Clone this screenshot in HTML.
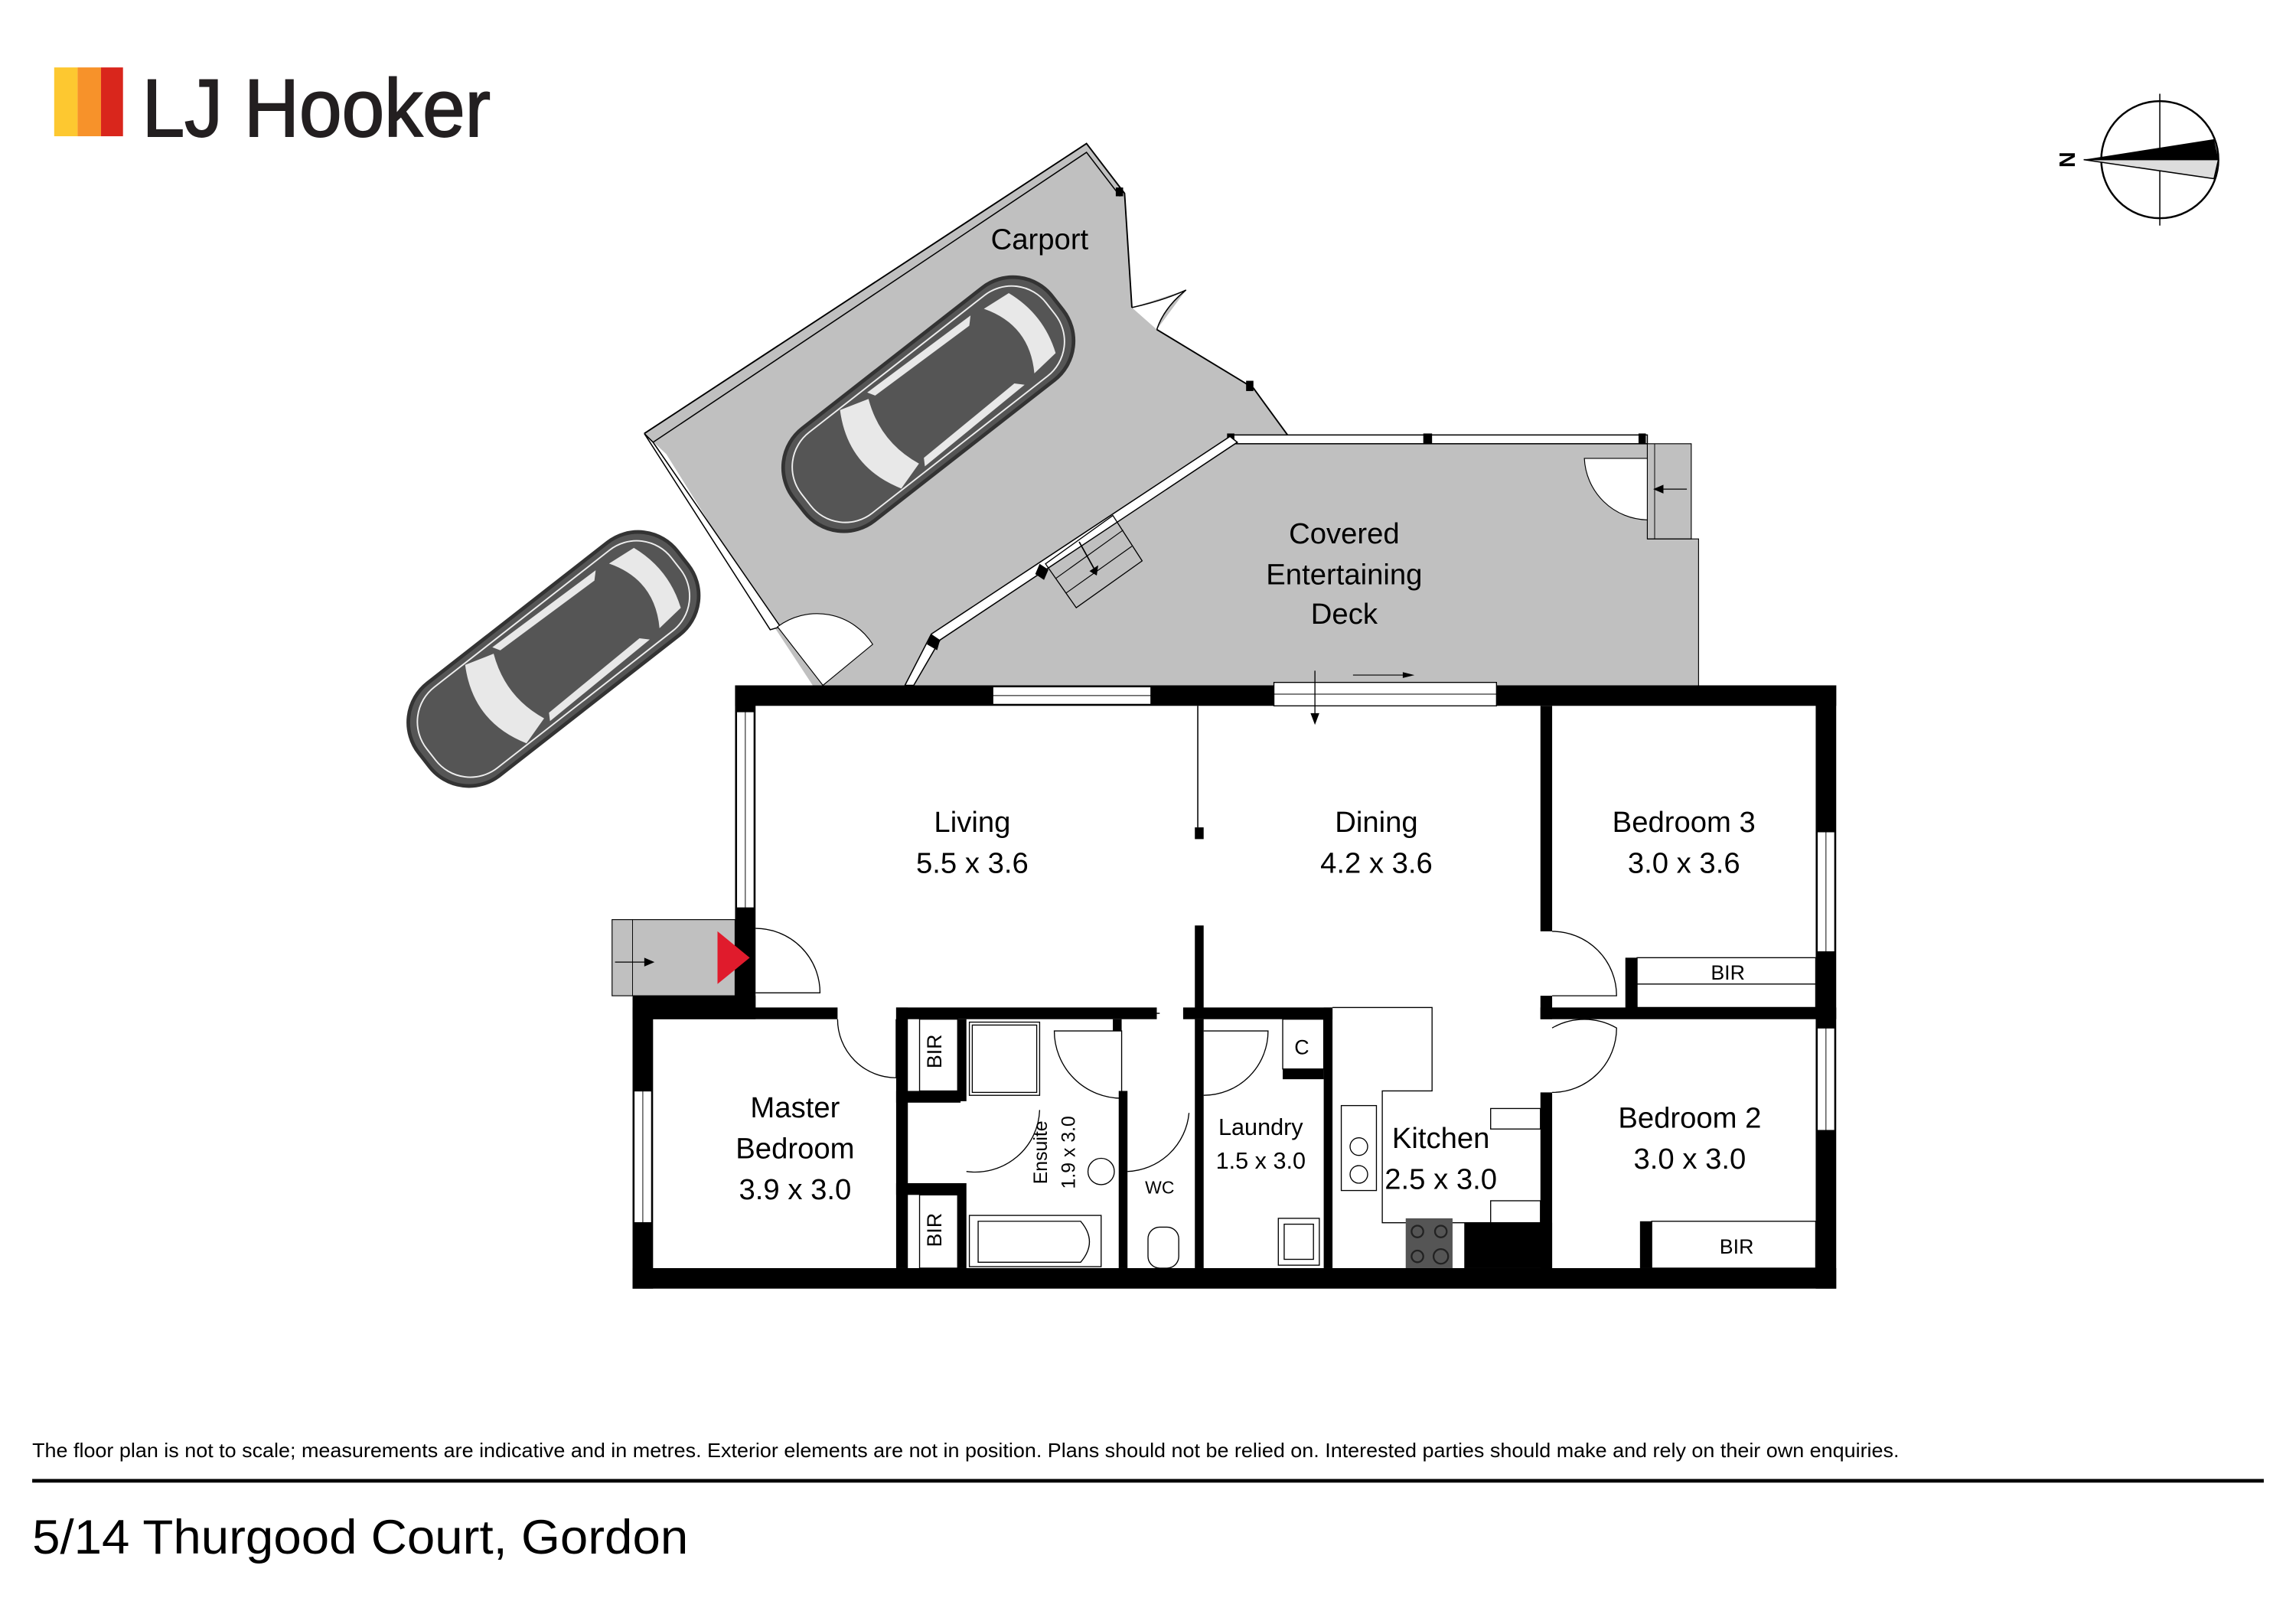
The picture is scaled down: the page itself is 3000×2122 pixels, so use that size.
<!DOCTYPE html>
<html><head><meta charset="utf-8"><style>
html,body{margin:0;padding:0;background:#fff;}
svg{display:block;}
text{font-family:"Liberation Sans",sans-serif;}
</style></head><body>
<svg width="3000" height="2122" viewBox="0 0 1568 1109" xmlns="http://www.w3.org/2000/svg">
<rect width="1568" height="1110" fill="#fff"/>
<!-- Logo -->
<rect x="37" y="46" width="16" height="47" fill="#fdc830"/>
<rect x="53" y="46" width="16" height="47" fill="#f7922a"/>
<rect x="69" y="46" width="15" height="47" fill="#d9261c"/>
<text x="97" y="93" font-size="56" fill="#231f20" textLength="238" lengthAdjust="spacingAndGlyphs" stroke="#231f20" stroke-width="1">LJ Hooker</text>

<!-- Compass -->
<circle cx="1475" cy="109" r="40" fill="#fff" stroke="#000" stroke-width="1.3"/>
<line x1="1475" y1="64" x2="1475" y2="154" stroke="#000" stroke-width="0.8"/>
<polygon points="1423,109 1512,95 1515,109" fill="#000"/>
<polygon points="1423,109 1515,109 1512,122" fill="#ddd" stroke="#000" stroke-width="0.8"/>
<text x="1412" y="109" font-size="15" transform="rotate(-90 1412 109)" text-anchor="middle" dy="5" font-weight="bold">N</text>

<!-- Carport + deck gray area -->
<polygon points="742,98 768,132 773,210 810,198 790,225 856,265 880,298 1125,298 1125,303 1155,303 1155,368 1160,368 1160,468 555,468 530,430 455,310 440,296" fill="#c0c0c0"/>
<polyline points="440,296 742,98 768,132 773,210" fill="none" stroke="#000" stroke-width="1"/>
<polyline points="446,302 742,104 765,134" fill="none" stroke="#000" stroke-width="0.8"/>
<polygon points="440,296 446,302 533,428 526,430" fill="#fff" stroke="#000" stroke-width="0.8"/>
<polyline points="790,225 856,265 880,298" fill="none" stroke="#000" stroke-width="1"/>
<path d="M773,210 Q795,205 810,198 Q795,210 790,225" fill="#fff" stroke="#000" stroke-width="0.8"/>
<rect x="762" y="128" width="5" height="6" fill="#000"/>
<rect x="851" y="260" width="5" height="7" fill="#000"/>
<rect x="840" y="297" width="285" height="6" fill="#fff" stroke="#000" stroke-width="0.8"/>
<rect x="838" y="296" width="5" height="7" fill="#000"/>
<rect x="972" y="296" width="6" height="7" fill="#000"/>
<rect x="1119" y="296" width="5" height="7" fill="#000"/>
<polygon points="840,298 845,302 642,437 624,468 618,468 636,433" fill="#fff" stroke="#000" stroke-width="0.8"/>
<polygon points="636,433 642,437 640,444 633,440" fill="#000"/>
<polygon points="710,385 716,389 713,396 707,392" fill="#000"/>
<polygon points="714,385 760,352 780,383 735,415" fill="none" stroke="#000" stroke-width="0.7"/>
<line x1="721" y1="395" x2="767" y2="362" stroke="#000" stroke-width="0.6"/>
<line x1="728" y1="405" x2="773" y2="373" stroke="#000" stroke-width="0.6"/>
<line x1="737" y1="370" x2="747" y2="388" stroke="#000" stroke-width="0.9"/>
<polygon points="744,390 750,386 749,393" fill="#000"/>
<rect x="1125" y="303" width="30" height="65" fill="#c0c0c0" stroke="#000" stroke-width="0.6"/>
<line x1="1130" y1="303" x2="1130" y2="368" stroke="#000" stroke-width="0.5"/>
<polyline points="1125,368 1160,368 1160,468" fill="none" stroke="#000" stroke-width="0.6"/>
<path d="M1125,355 A44,44 0 0 1 1082,313 L1125,313 Z" fill="#fff" stroke="#000" stroke-width="0.6"/>
<line x1="1130" y1="334" x2="1152" y2="334" stroke="#000" stroke-width="0.6"/>
<polygon points="1129,334 1136,331 1136,337" fill="#000"/>
<path d="M531,428 A45,45 0 0 1 596,440 L562,468 Z" fill="#fff" stroke="#000" stroke-width="0.6"/>
<text x="710" y="170" font-size="20" text-anchor="middle">Carport</text>
<text x="918" y="371" font-size="20" text-anchor="middle">Covered</text>
<text x="918" y="399" font-size="20" text-anchor="middle">Entertaining</text>
<text x="918" y="426" font-size="20" text-anchor="middle">Deck</text>

<!-- Cars -->
<g transform="translate(634,276) rotate(-38)">
<rect x="-112" y="-40" width="224" height="80" rx="34" fill="#555" stroke="#333" stroke-width="2.5"/>
<rect x="-106" y="-35" width="212" height="70" rx="30" fill="none" stroke="#eee" stroke-width="1"/>
<path d="M-50,-34 Q-70,0 -50,34 L-30,28 Q-42,0 -30,-28 Z" fill="#e8e8e8"/>
<path d="M70,-28 Q88,0 70,28 L90,26 Q100,0 90,-26 Z" fill="#e8e8e8"/>
<path d="M-28,-32 L60,-30 L55,-25 L-25,-27 Z" fill="#e8e8e8"/>
<path d="M-28,32 L60,30 L55,25 L-25,27 Z" fill="#e8e8e8"/>
</g>
<g transform="translate(378,450) rotate(-38)">
<rect x="-112" y="-40" width="224" height="80" rx="34" fill="#555" stroke="#333" stroke-width="2.5"/>
<rect x="-106" y="-35" width="212" height="70" rx="30" fill="none" stroke="#eee" stroke-width="1"/>
<path d="M-50,-34 Q-70,0 -50,34 L-30,28 Q-42,0 -30,-28 Z" fill="#e8e8e8"/>
<path d="M70,-28 Q88,0 70,28 L90,26 Q100,0 90,-26 Z" fill="#e8e8e8"/>
<path d="M-28,-32 L60,-30 L55,-25 L-25,-27 Z" fill="#e8e8e8"/>
<path d="M-28,32 L60,30 L55,25 L-25,27 Z" fill="#e8e8e8"/>
</g>

<!-- House walls -->
<g fill="#000">
<rect x="502" y="468" width="752" height="14"/>
<rect x="502" y="468" width="14" height="222"/>
<rect x="1240" y="468" width="14" height="412"/>
<rect x="432" y="866" width="822" height="14"/>
<rect x="432" y="688" width="14" height="192"/>
<rect x="432" y="680" width="84" height="16"/>
<rect x="446" y="688" width="126" height="8"/>
<rect x="612" y="688" width="178" height="8"/>
<rect x="808" y="688" width="102" height="8"/>
<rect x="816" y="565" width="6" height="8"/>
<rect x="816" y="632" width="6" height="64"/>
<rect x="1052" y="482" width="8" height="154"/>
<rect x="1052" y="680" width="8" height="16"/>
<rect x="1052" y="688" width="202" height="8"/>
<rect x="1052" y="746" width="8" height="120"/>
<rect x="1110" y="654" width="8" height="36"/>
<rect x="1120" y="834" width="8" height="32"/>
<rect x="612" y="688" width="8" height="178"/>
<rect x="612" y="745" width="44" height="8"/>
<rect x="612" y="808" width="44" height="8"/>
<rect x="654" y="696" width="6" height="56"/>
<rect x="654" y="808" width="6" height="58"/>
<rect x="760" y="696" width="6" height="8"/>
<rect x="764" y="745" width="6" height="121"/>
<rect x="816" y="696" width="6" height="170"/>
<rect x="904" y="688" width="6" height="178"/>
<rect x="876" y="730" width="28" height="7"/>
<rect x="1000" y="835" width="60" height="31"/>
</g>
<g fill="#fff" stroke="#000" stroke-width="0.7">
<rect x="678" y="469" width="108" height="12"/>
<rect x="870" y="466" width="152" height="16"/>
<rect x="503" y="486" width="12" height="134"/>
<rect x="433" y="745" width="12" height="90"/>
<rect x="1241" y="568" width="12" height="82"/>
<rect x="1241" y="702" width="12" height="70"/>
</g>
<line x1="678" y1="475" x2="786" y2="475" stroke="#000" stroke-width="0.5"/>
<line x1="870" y1="474" x2="1022" y2="474" stroke="#000" stroke-width="0.5"/>
<line x1="509" y1="486" x2="509" y2="620" stroke="#000" stroke-width="0.5"/>
<line x1="439" y1="745" x2="439" y2="835" stroke="#000" stroke-width="0.5"/>
<line x1="1247" y1="568" x2="1247" y2="650" stroke="#000" stroke-width="0.5"/>
<line x1="1247" y1="702" x2="1247" y2="772" stroke="#000" stroke-width="0.5"/>
<line x1="924" y1="461" x2="964" y2="461" stroke="#000" stroke-width="0.6"/>
<polygon points="966,461 958,459 958,463" fill="#000"/>
<line x1="898" y1="458" x2="898" y2="492" stroke="#000" stroke-width="0.7"/>
<polygon points="898,495 895,487 901,487" fill="#000"/>
<line x1="818" y1="482" x2="818" y2="565" stroke="#000" stroke-width="0.8"/>

<rect x="418" y="628" width="84" height="52" fill="#c0c0c0" stroke="#000" stroke-width="0.6"/>
<line x1="432" y1="628" x2="432" y2="680" stroke="#000" stroke-width="0.5"/>
<line x1="420" y1="657" x2="444" y2="657" stroke="#000" stroke-width="0.7"/>
<polygon points="447,657 440,654 440,660" fill="#000"/>
<polygon points="490,636 512,654 490,672" fill="#e01b2c"/>
<g fill="none" stroke="#000" stroke-width="0.7">
<path d="M516,634 A44,44 0 0 1 560,678 L516,678"/>
<path d="M572,696 A40,40 0 0 0 612,736 L612,696"/>
<path d="M1060,636 A44,44 0 0 1 1104,680 L1060,680"/>
<path d="M1060,702 A44,44 0 0 1 1104,702 A44,44 0 0 1 1060,746"/>
<path d="M720,704 A46,46 0 0 0 766,750 L766,704 Z"/>
<path d="M822,704 L866,704 A44,44 0 0 1 822,748"/>
<path d="M710,758 A44,44 0 0 1 660,800"/>
<path d="M812,760 A44,44 0 0 1 770,800"/>
<line x1="770" y1="692" x2="792" y2="692"/>
<polyline points="910,688 978,688 978,745 944,745 944,835 1052,835"/>
<rect x="1018" y="757" width="34" height="14"/>
<rect x="1018" y="820" width="34" height="15"/>
<rect x="1118" y="654" width="122" height="34"/>
<line x1="1118" y1="672" x2="1240" y2="672"/>
<rect x="1128" y="834" width="112" height="32"/>
<rect x="628" y="696" width="26" height="49"/>
<rect x="628" y="816" width="26" height="50"/>
<rect x="662" y="698" width="48" height="50"/>
<rect x="664" y="700" width="44" height="46"/>
<rect x="662" y="830" width="90" height="35"/>
<path d="M668,834 L738,834 Q750,848 738,862 L668,862 Z"/>
<circle cx="752" cy="800" r="9"/>
<rect x="784" y="838" width="21" height="28" rx="8"/>
<rect x="873" y="832" width="28" height="32"/>
<rect x="877" y="836" width="20" height="24"/>
<rect x="916" y="755" width="24" height="58"/>
<circle cx="928" cy="783" r="6"/><circle cx="928" cy="802" r="6"/>
<rect x="876" y="696" width="28" height="34"/>
</g>
<rect x="960" y="832" width="32" height="34" fill="#555"/>
<g fill="none" stroke="#222" stroke-width="1.2"><circle cx="968" cy="841" r="4"/><circle cx="984" cy="841" r="4"/><circle cx="968" cy="858" r="4"/><circle cx="984" cy="858" r="5"/></g>

<g font-size="20" text-anchor="middle" fill="#000">
<text x="664" y="568">Living</text><text x="664" y="596">5.5 x 3.6</text>
<text x="940" y="568">Dining</text><text x="940" y="596">4.2 x 3.6</text>
<text x="1150" y="568">Bedroom 3</text><text x="1150" y="596">3.0 x 3.6</text>
<text x="543" y="763">Master</text><text x="543" y="791">Bedroom</text><text x="543" y="819">3.9 x 3.0</text>
<text x="1154" y="770">Bedroom 2</text><text x="1154" y="798">3.0 x 3.0</text>
<text x="984" y="784">Kitchen</text><text x="984" y="812">2.5 x 3.0</text>
</g>
<g font-size="16" text-anchor="middle">
<text x="861" y="775">Laundry</text><text x="861" y="798">1.5 x 3.0</text>
</g>
<g font-size="14" text-anchor="middle">
<text x="1180" y="669">BIR</text><text x="1186" y="856">BIR</text>
<text x="889" y="720">C</text><text x="792" y="815" font-size="12">WC</text>
<text transform="translate(643,718) rotate(-90)">BIR</text>
<text transform="translate(643,840) rotate(-90)">BIR</text>
<text transform="translate(715,787) rotate(-90)" font-size="13">Ensuite</text>
<text transform="translate(734,787) rotate(-90)" font-size="13">1.9 x 3.0</text>
</g>

<text x="22" y="995" font-size="13.5" fill="#000" textLength="1275" lengthAdjust="spacingAndGlyphs">The floor plan is not to scale; measurements are indicative and in metres. Exterior elements are not in position. Plans should not be relied on. Interested parties should make and rely on their own enquiries.</text>
<rect x="22" y="1010" width="1524" height="2.5" fill="#000"/>
<text x="22" y="1061" font-size="33" fill="#000" textLength="448" lengthAdjust="spacingAndGlyphs">5/14 Thurgood Court, Gordon</text>
</svg>
</body></html>
